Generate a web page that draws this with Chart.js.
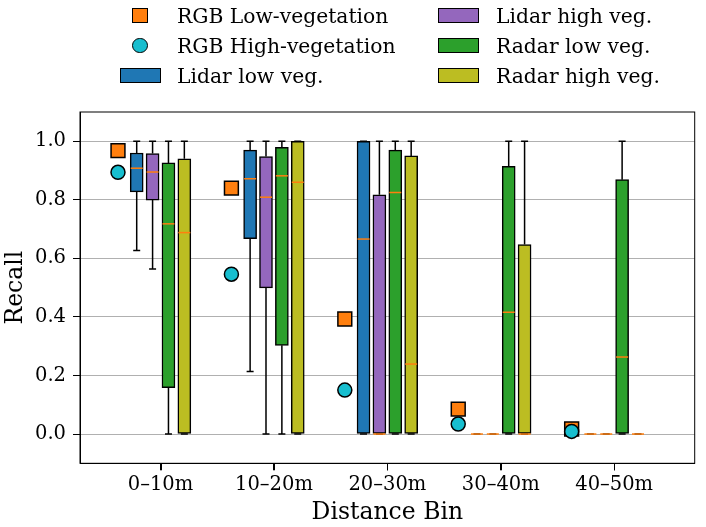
<!DOCTYPE html>
<html lang="en">
<head>
<meta charset="UTF-8">
<title>Recall by Distance Bin</title>
<script src="https://cdn.jsdelivr.net/npm/chart.js"></script>
<style>
  body { margin: 0; background: #fff; font-family: 'DejaVu Serif', serif; }
  #wrap { position: relative; width: 706px; height: 527px; }
  #legend { position: absolute; left: 0; top: 0; width: 706px; height: 100px; }
  .label { position: absolute; height: 24px; line-height: 24px; font-size: 20.3px; color: #000; white-space: nowrap; }
  .handle { position: absolute; box-sizing: border-box; border: 1.5px solid #000; }
</style>
</head>
<body>
<div id="wrap">
  <canvas id="recallChart" width="706" height="527"></canvas>
  <div id="legend"></div>
</div>
<script>
// data
const bins = ['0–10m', '10–20m', '20–30m', '30–40m', '40–50m'];
const yTicks = [0, 0.2, 0.4, 0.6, 0.8, 1.0];

const rgbLow = [0.968, 0.840, 0.393, 0.085, 0.017];
const rgbHigh = [0.894, 0.546, 0.150, 0.034, 0.009];

// per bin: [min, q1, median, q3, max]
const lidarLow = [[0.627, 0.827, 0.908, 0.960, 1.0], [0.214, 0.667, 0.872, 0.970, 1.0], [0, 0, 0.666, 1.0, 1.0], [0, 0, 0, 0, 0], [0, 0, 0, 0, 0]];
const lidarHigh = [[0.564, 0.799, 0.895, 0.958, 1.0], [0, 0.499, 0.809, 0.948, 1.0], [0, 0, 0, 0.817, 1.0], [0, 0, 0, 0, 0], [0, 0, 0, 0, 0]];
const radarLow = [[0, 0.158, 0.718, 0.926, 1.0], [0, 0.303, 0.882, 0.979, 1.0], [0, 0, 0.825, 0.970, 1.0], [0, 0, 0.416, 0.914, 1.0], [0, 0, 0.263, 0.869, 1.0]];
const radarHigh = [[0, 0, 0.688, 0.940, 1.0], [0, 0, 0.860, 1.0, 1.0], [0, 0, 0.239, 0.950, 1.0], [0, 0, 0, 0.647, 1.0], [0, 0, 0, 0, 0]];

const markerOffset = -0.375;
const boxOffsets = [-0.21, -0.07, 0.07, 0.21];
const family = "'DejaVu Serif', serif";

const boxSeries = [
  { label: 'Lidar low veg.', color: '#1f77b4', stats: lidarLow },
  { label: 'Lidar high veg.', color: '#9467bd', stats: lidarHigh },
  { label: 'Radar low veg.', color: '#2ca02c', stats: radarLow },
  { label: 'Radar high veg.', color: '#bcbd22', stats: radarHigh }
];

const markerSets = [
  { label: 'RGB Low-vegetation', type: 'line', showLine: false, order: 1,
    data: rgbLow.map((v, i) => ({ x: i + markerOffset, y: v })),
    pointStyle: 'rect', pointRadius: 9.8, backgroundColor: '#ff7f0e', borderColor: '#000', pointBorderWidth: 1.5 },
  { label: 'RGB High-vegetation', type: 'line', showLine: false, order: 0,
    data: rgbHigh.map((v, i) => ({ x: i + markerOffset, y: v })),
    pointStyle: 'circle', pointRadius: 7, backgroundColor: '#17becf', borderColor: '#000', pointBorderWidth: 1.5 }
];

const boxSets = boxSeries.map((s, k) => ({
  label: s.label, type: 'bar', order: 2,
  data: s.stats.map((st, i) => ({ x: i + boxOffsets[k], y: [st[1], st[3]] })).filter(d => d.y[1] > d.y[0]),
  backgroundColor: s.color, borderColor: '#000', borderWidth: 1.5, borderSkipped: false,
  barThickness: 13, grouped: false
}));

// whiskers, caps, medians, x tick marks and the plot frame
const boxExtras = {
  id: 'boxExtras',
  afterDatasetsDraw(chart) {
    const { ctx, chartArea } = chart;
    const x = chart.scales.x, y = chart.scales.y;
    ctx.save();
    ctx.lineWidth = 1.5;
    boxSeries.forEach((s, k) => {
      s.stats.forEach((st, i) => {
        const px = x.getPixelForValue(i + boxOffsets[k]);
        const [mn, q1, md, q3, mx] = st.map(v => y.getPixelForValue(v));
        ctx.strokeStyle = '#000';
        ctx.beginPath();
        ctx.moveTo(px, q3); ctx.lineTo(px, mx);
        ctx.moveTo(px, q1); ctx.lineTo(px, mn);
        ctx.moveTo(px - 3.5, mx); ctx.lineTo(px + 3.5, mx);
        ctx.moveTo(px - 3.5, mn); ctx.lineTo(px + 3.5, mn);
        ctx.stroke();
        ctx.strokeStyle = '#ff7f0e';
        ctx.beginPath();
        ctx.moveTo(px - 6, md); ctx.lineTo(px + 6, md);
        ctx.stroke();
      });
    });
    ctx.strokeStyle = '#000';
    ctx.lineWidth = 1;
    ctx.beginPath();
    x.ticks.forEach(t => {
      const px = Math.round(x.getPixelForValue(t.value)) + 0.5;
      ctx.moveTo(px, chartArea.bottom);
      ctx.lineTo(px, chartArea.bottom + 7);
    });
    ctx.stroke();
    ctx.strokeRect(chartArea.left, chartArea.top, chartArea.width, chartArea.height);
    ctx.restore();
  }
};

const chart = new Chart(document.getElementById('recallChart'), {
  type: 'bar',
  data: { datasets: [...markerSets, ...boxSets] },
  options: {
    responsive: false,
    animation: false,
    layout: { padding: { top: 112, right: 7, left: 0, bottom: 0 } },
    plugins: { legend: { display: false }, tooltip: { enabled: false } },
    scales: {
      x: {
        type: 'linear', min: -0.71, max: 4.71, offset: false,
        afterBuildTicks: s => { s.ticks = bins.map((b, i) => ({ value: i })); },
        afterFit: s => { s.height = 63.7; },
        ticks: { callback: (v, i) => bins[i], font: { family, size: 19.5 }, color: '#000', padding: 3, maxRotation: 0, autoSkip: false },
        grid: { offset: false, drawOnChartArea: false, tickLength: 7, tickColor: '#000', tickWidth: 1 },
        border: { color: '#000', width: 1 },
        title: { display: true, text: 'Distance Bin', font: { family, size: 23.5 }, color: '#000', padding: 0 }
      },
      y: {
        min: -0.1, max: 1.1,
        afterBuildTicks: s => { s.ticks = yTicks.map(v => ({ value: v })); },
        afterFit: s => { s.width = 80; },
        ticks: { callback: v => v.toFixed(1), font: { family, size: 19.5 }, color: '#000', padding: 7 },
        grid: { color: '#b0b0b0', lineWidth: 1, tickLength: 7, tickColor: '#000', tickWidth: 1 },
        border: { color: '#000', width: 1 },
        title: { display: true, text: 'Recall', font: { family, size: 23.5 }, color: '#000', padding: { top: 2, bottom: 0 } }
      }
    }
  },
  plugins: [boxExtras]
});

// two-column legend, filled column by column
const legendItems = [
  { label: markerSets[0].label, kind: 'square', color: markerSets[0].backgroundColor },
  { label: markerSets[1].label, kind: 'circle', color: markerSets[1].backgroundColor },
  ...boxSeries.map(s => ({ label: s.label, kind: 'box', color: s.color }))
];
const legend = document.getElementById('legend');
const rowY = [15.5, 45.5, 75.5];
legendItems.forEach((it, n) => {
  const col = Math.floor(n / 3), row = n % 3;
  const cx = col ? 458 : 140, tx = col ? 496 : 177, cy = rowY[row];
  const h = document.createElement('div');
  h.className = 'handle';
  const w = it.kind === 'box' ? 41 : 15.5, ht = it.kind === 'box' ? 14.5 : 15.5;
  h.style.cssText = `left:${cx - w / 2}px;top:${cy - ht / 2}px;width:${w}px;height:${ht}px;background:${it.color};` +
    (it.kind === 'circle' ? 'border-radius:50%;' : '');
  legend.appendChild(h);
  const t = document.createElement('div');
  t.className = 'label';
  t.style.left = tx + 'px';
  t.style.top = (cy - 12) + 'px';
  t.textContent = it.label;
  legend.appendChild(t);
});
</script>
</body>
</html>
